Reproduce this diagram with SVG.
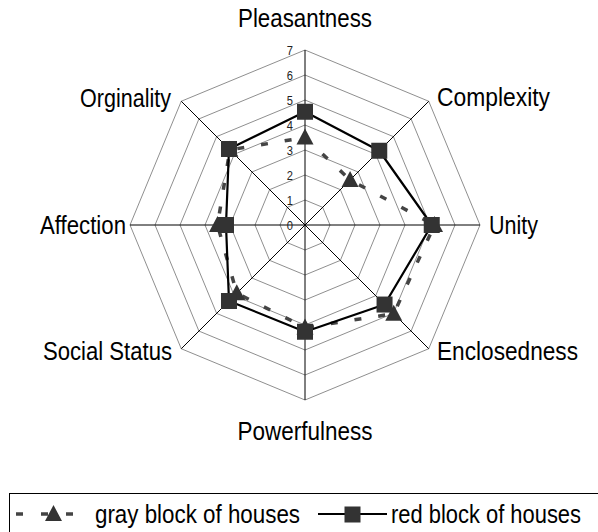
<svg xmlns="http://www.w3.org/2000/svg" width="598" height="532" viewBox="0 0 598 532">
  <style>
    .ring { fill: none; stroke: #8f8f8f; stroke-width: 1; }
    .axis { stroke: #000; stroke-width: 1; }
    .tick { font-family: "Liberation Sans", Arial, sans-serif; font-size: 13px; fill: #222; text-anchor: end; }
    .cat { font-family: "Liberation Sans", Arial, sans-serif; font-size: 26.5px; fill: #000; }
    .gray-line { fill: none; stroke: #444; stroke-width: 3.5; stroke-dasharray: 7 17; }
    .red-line { fill: none; stroke: #000; stroke-width: 2.2; stroke-linejoin: round; }
    .mk { fill: #333; }
  </style>
  <defs>
    <path id="tri" class="mk" d="M0,-9 L8.5,7 L-8.5,7 Z"/>
    <rect id="sq" class="mk" x="-8" y="-8" width="16" height="16"/>
  </defs>

  <rect x="0" y="0" width="598" height="532" fill="#fff"/>

  <!-- concentric octagon grid, one ring per scale step -->
  <g id="grid">
    <polygon class="ring" points="305,200 322.68,207.32 330,225 322.68,242.68 305,250 287.32,242.68 280,225 287.32,207.32"/>
    <polygon class="ring" points="305,175 340.36,189.64 355,225 340.36,260.36 305,275 269.64,260.36 255,225 269.64,189.64"/>
    <polygon class="ring" points="305,150 358.03,171.97 380,225 358.03,278.03 305,300 251.97,278.03 230,225 251.97,171.97"/>
    <polygon class="ring" points="305,125 375.71,154.29 405,225 375.71,295.71 305,325 234.29,295.71 205,225 234.29,154.29"/>
    <polygon class="ring" points="305,100 393.39,136.61 430,225 393.39,313.39 305,350 216.61,313.39 180,225 216.61,136.61"/>
    <polygon class="ring" points="305,75 411.07,118.93 455,225 411.07,331.07 305,375 198.93,331.07 155,225 198.93,118.93"/>
    <polygon class="ring" points="305,50 428.74,101.26 480,225 428.74,348.74 305,400 181.26,348.74 130,225 181.26,101.26"/>
  </g>

  <!-- spokes -->
  <g id="axes">
    <line class="axis" x1="305" y1="225" x2="305" y2="50"/>
    <line class="axis" x1="305" y1="225" x2="428.74" y2="101.26"/>
    <line class="axis" x1="305" y1="225" x2="480" y2="225"/>
    <line class="axis" x1="305" y1="225" x2="428.74" y2="348.74"/>
    <line class="axis" x1="305" y1="225" x2="305" y2="400"/>
    <line class="axis" x1="305" y1="225" x2="181.26" y2="348.74"/>
    <line class="axis" x1="305" y1="225" x2="130" y2="225"/>
    <line class="axis" x1="305" y1="225" x2="181.26" y2="101.26"/>
  </g>

  <!-- scale values -->
  <g id="scale">
    <text class="tick" x="293" y="229.5" textLength="6.2" lengthAdjust="spacingAndGlyphs">0</text>
    <text class="tick" x="293" y="204.5" textLength="6.2" lengthAdjust="spacingAndGlyphs">1</text>
    <text class="tick" x="293" y="179.5" textLength="6.2" lengthAdjust="spacingAndGlyphs">2</text>
    <text class="tick" x="293" y="154.5" textLength="6.2" lengthAdjust="spacingAndGlyphs">3</text>
    <text class="tick" x="293" y="129.5" textLength="6.2" lengthAdjust="spacingAndGlyphs">4</text>
    <text class="tick" x="293" y="104.5" textLength="6.2" lengthAdjust="spacingAndGlyphs">5</text>
    <text class="tick" x="293" y="79.5" textLength="6.2" lengthAdjust="spacingAndGlyphs">6</text>
    <text class="tick" x="293" y="54.5" textLength="6.2" lengthAdjust="spacingAndGlyphs">7</text>
  </g>

  <!-- category labels -->
  <g id="categories">
    <text class="cat" x="305" y="27" text-anchor="middle" textLength="134" lengthAdjust="spacingAndGlyphs">Pleasantness</text>
    <text class="cat" x="437" y="106" textLength="113" lengthAdjust="spacingAndGlyphs">Complexity</text>
    <text class="cat" x="489" y="234" textLength="49" lengthAdjust="spacingAndGlyphs">Unity</text>
    <text class="cat" x="437" y="360" textLength="141" lengthAdjust="spacingAndGlyphs">Enclosedness</text>
    <text class="cat" x="305" y="440" text-anchor="middle" textLength="135" lengthAdjust="spacingAndGlyphs">Powerfulness</text>
    <text class="cat" x="172" y="360" text-anchor="end" textLength="129" lengthAdjust="spacingAndGlyphs">Social Status</text>
    <text class="cat" x="126" y="234" text-anchor="end" textLength="86" lengthAdjust="spacingAndGlyphs">Affection</text>
    <text class="cat" x="171" y="107" text-anchor="end" textLength="91" lengthAdjust="spacingAndGlyphs">Orginality</text>
  </g>

  <!-- data series -->
  <g id="series">
    <polygon id="gray-series-line" class="gray-line" points="305,137.5 350.08,179.92 434.5,225 393.74,313.74 305,327.5 236.76,293.24 217.5,225 229.87,149.87"/>
    <polygon id="red-series-line" class="red-line" points="305,111.75 379.25,150.75 431.75,225 384.55,304.55 305,331.75 228.99,301.01 226,225 228.99,148.99"/>
    <g id="gray-series-markers">
      <use href="#tri" x="305" y="137.5"/>
      <use href="#tri" x="350.08" y="179.92"/>
      <use href="#tri" x="434.5" y="225"/>
      <use href="#tri" x="393.74" y="313.74"/>
      <use href="#tri" x="305" y="327.5"/>
      <use href="#tri" x="236.76" y="293.24"/>
      <use href="#tri" x="217.5" y="225"/>
      <use href="#tri" x="229.87" y="149.87"/>
    </g>
    <g id="red-series-markers">
      <use href="#sq" x="305" y="111.75"/>
      <use href="#sq" x="379.25" y="150.75"/>
      <use href="#sq" x="431.75" y="225"/>
      <use href="#sq" x="384.55" y="304.55"/>
      <use href="#sq" x="305" y="331.75"/>
      <use href="#sq" x="228.99" y="301.01"/>
      <use href="#sq" x="226" y="225"/>
      <use href="#sq" x="228.99" y="148.99"/>
    </g>
  </g>

  <!-- legend -->
  <g id="legend">
    <rect x="9.5" y="493.5" width="700" height="100" fill="none" stroke="#000" stroke-width="1"/>
    <line x1="16" y1="514" x2="74" y2="514" stroke="#444" stroke-width="3.5" stroke-dasharray="7 18"/>
    <use href="#tri" x="53.5" y="514"/>
    <text class="cat" x="95" y="523" textLength="205" lengthAdjust="spacingAndGlyphs">gray block of houses</text>
    <line x1="318" y1="514" x2="387" y2="514" stroke="#000" stroke-width="2.2"/>
    <use href="#sq" x="352.5" y="514.5"/>
    <text class="cat" x="391" y="523" textLength="190" lengthAdjust="spacingAndGlyphs">red block of houses</text>
  </g>
</svg>
